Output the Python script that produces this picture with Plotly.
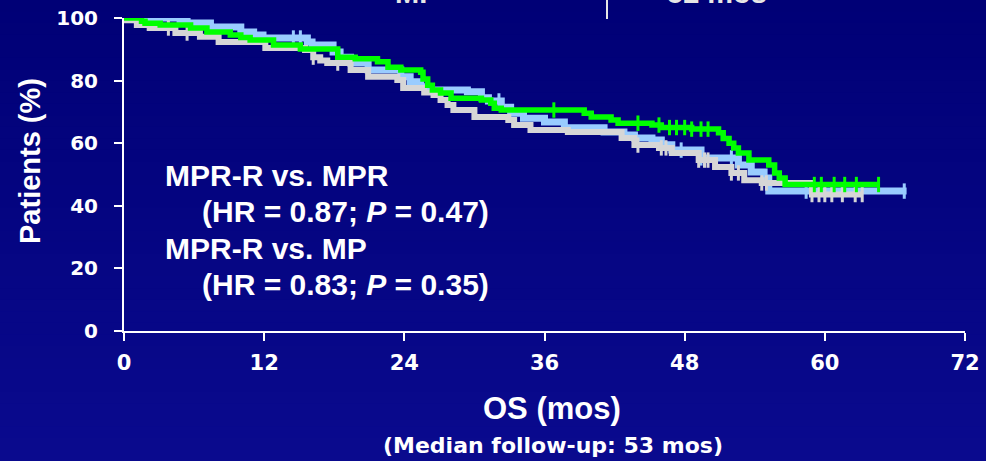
import plotly.graph_objects as go

# ---------------- data ----------------
# Kaplan-Meier step curves: time of step (months) and survival (%) after step
mprr_t = [0, 1.5, 1.8, 3.1, 5.7, 7.1, 9.1, 10.0, 10.8, 12.8, 15.1, 18.3, 19.8, 21.7, 22.6,
          23.7, 25.4, 25.6, 26.0, 26.4, 27.1, 28.0, 30.6, 31.4, 31.7, 32.3, 39.4, 40.0,
          41.7, 42.3, 45.2, 46.0, 48.6, 50.9, 51.3, 51.8, 52.2, 52.6, 53.5, 55.2, 55.7,
          56.1, 56.6, 64.7]
mprr_s = [100, 99, 98.3, 97.8, 96.8, 95.5, 94.6, 93.8, 93, 91.4, 90.1, 87.5, 87, 86, 84.3,
          83.4, 82.7, 80.5, 78.5, 77, 76, 74.4, 73.8, 72.8, 71.2, 70.6, 69.6, 68.4,
          67.4, 66.4, 65.8, 65.0, 64.5, 63.3, 61.5, 60, 58.5, 56.9, 54.6, 53, 50.5,
          48.9, 46.8, 46.8]

mpr_t = [0, 4.8, 5.4, 7.4, 10.0, 11.1, 11.9, 15.7, 16.1, 17.9, 18.5, 19.4, 20.9, 23.7, 24.5,
         25.4, 26.0, 29.4, 30.6, 31.2, 32.3, 33.1, 34.2, 36.0, 37.7, 41.1, 42.8, 43.7,
         45.2, 46.0, 46.9, 49.4, 52.6, 53.7, 54.8, 55.2, 67.0]
mpr_s = [100, 99.4, 98.4, 97.1, 95.5, 94.6, 93.6, 92.3, 91.4, 89.1, 87.5, 85.6, 83.4, 81.2, 79.6,
         78, 77, 76.4, 74.5, 73.5, 71.5, 69.6, 68, 66.8, 64.9, 63.6, 62.6, 61.7,
         61, 59.5, 57.8, 55.3, 53, 50.8, 48.9, 44.7, 44.7]

mp_t = [0, 1.1, 2.2, 4.4, 6.5, 8.1, 12.1, 15.5, 16.2, 16.8, 17.4, 19.4, 20.9, 23.4, 23.9,
        25.7, 26.5, 27.1, 27.7, 28.2, 30.0, 32.9, 33.4, 34.8, 38.0, 42.6, 43.7, 45.8,
        46.9, 49.2, 50.6, 52.0, 53.1, 54.6, 58.9, 63.2]
mp_s = [99.3, 97.8, 96.8, 95.2, 94, 92.3, 90.4, 89.8, 87.5, 86.4, 85.6, 83.4, 81.2, 80.2, 77.6,
        76.2, 75.4, 73.8, 72.2, 70.6, 68.4, 67.4, 65.8, 64.2, 63.6, 61.7, 59.4, 58.5,
        56.9, 54.6, 52.4, 50.5, 48.2, 47.3, 43.6, 43.6]

# censoring times (months)
mprr_cens = [36.8, 44.0, 45.8, 46.7, 47.3, 48.0, 48.6, 49.4, 50.0, 59.1, 59.7, 60.8, 61.7, 62.7, 64.6]
mpr_cens = [14.5, 15.1, 32.1, 47.7, 49.4, 52.0, 58.4, 66.8]
mp_cens = [3.8, 5.4, 16.2, 18.3, 44.0, 46.0, 46.4, 49.2, 49.7, 50.0, 52.0, 52.6, 54.6, 55.0,
           58.9, 59.5, 60.0, 60.6, 61.5, 62.6, 63.2]

x_ticks = [0, 12, 24, 36, 48, 60, 72]
y_ticks = [0, 20, 40, 60, 80, 100]

hr_lines = ["MPR-R vs. MPR", "(HR = 0.87; <i>P</i> = 0.47)",
            "MPR-R vs. MP", "(HR = 0.83; <i>P</i> = 0.35)"]


def step_value(ts, ss, t):
    v = ss[0]
    for ti, si in zip(ts, ss):
        if ti <= t:
            v = si
        else:
            break
    return v


FONT = "Arial, Liberation Sans, sans-serif"
WIDEFONT = "DejaVu Sans, Arial, sans-serif"
GREEN = "#00ff00"
BLUE = "#99ccff"
GREY = "#d6d6d6"

fig = go.Figure()

series = [
    ("MPR", mpr_t, mpr_s, mpr_cens, BLUE, 7),
    ("MP", mp_t, mp_s, mp_cens, GREY, 6),
    ("MPR-R", mprr_t, mprr_s, mprr_cens, GREEN, 5.5),
]
for name, ts, ss, cens, col, w in series:
    fig.add_trace(go.Scatter(x=ts, y=ss, mode="lines", line=dict(color=col, width=w, shape="hv"),
                             name=name, showlegend=False, hoverinfo="skip"))
    fig.add_trace(go.Scatter(x=cens, y=[step_value(ts, ss, c) for c in cens], mode="markers",
                             marker=dict(symbol="line-ns", size=11, line=dict(color=col, width=3)),
                             showlegend=False, hoverinfo="skip", cliponaxis=False))

# background gradient bands
shapes = []
top = (0, 0, 118)
bot = (10, 10, 142)
n = 40
L, R, T, B = 124, 21, 18, 130
H = 461 - T - B
W = 986 - L - R
for i in range(n):
    f = i / (n - 1)
    c = tuple(round(top[k] + (bot[k] - top[k]) * f) for k in range(3))
    py0 = 461 * i / n
    py1 = 461 * (i + 1) / n + 1
    shapes.append(dict(type="rect", xref="paper", yref="paper", layer="below",
                       x0=-L / W - 0.01, x1=1 + R / W + 0.01,
                       y0=(461 - B - py1) / H, y1=(461 - B - py0) / H,
                       fillcolor="rgb(%d,%d,%d)" % c, line=dict(width=0)))
# separator line of the cut-off table at top
shapes.append(dict(type="line", xref="paper", yref="paper",
                   x0=(607 - L) / W, x1=(607 - L) / W,
                   y0=(461 - B - 19) / H, y1=(461 - B + 2) / H,
                   line=dict(color="#e6e6e6", width=2)))

annotations = []
# HR text block
hr_pos = [(3.35, 49.6), (6.5, 38.1), (3.35, 26.3), (6.5, 14.8)]
for txt, (ax, ay) in zip(hr_lines, hr_pos):
    annotations.append(dict(x=ax, y=ay, xref="x", yref="y", text="<b>%s</b>" % txt,
                            showarrow=False, xanchor="left", yanchor="middle",
                            font=dict(family=FONT, size=30, color="white")))
# axis titles
annotations.append(dict(x=(552 - L) / W, y=(461 - B - 409) / H, xref="paper", yref="paper",
                        text="<b>OS (mos)</b>", showarrow=False, xanchor="center", yanchor="middle",
                        font=dict(family=FONT, size=31, color="white")))
annotations.append(dict(x=(553 - L) / W, y=(461 - B - 445) / H, xref="paper", yref="paper",
                        text="<b>(Median follow-up: 53 mos)</b>", showarrow=False,
                        xanchor="center", yanchor="middle",
                        font=dict(family=WIDEFONT, size=22, color="white")))
annotations.append(dict(x=(30 - L) / W, y=(461 - B - 161) / H, xref="paper", yref="paper",
                        text="<b>Patients (%)</b>", showarrow=False, textangle=-90,
                        xanchor="center", yanchor="middle",
                        font=dict(family=FONT, size=29, color="white")))
# cut-off table text at top
for txt, px in [("MP", 417), ("52 mos", 717)]:
    annotations.append(dict(x=(px - L) / W, y=(461 - B + 7) / H, xref="paper", yref="paper",
                            text="<b>%s</b>" % txt, showarrow=False, xanchor="center",
                            yanchor="middle", font=dict(family=FONT, size=29, color="#e6e6e6")))

axis_common = dict(showline=True, linecolor="white", linewidth=2, ticks="outside",
                   tickcolor="white", tickwidth=2, ticklen=8, showgrid=False, zeroline=False,
                   fixedrange=True, automargin=False)
fig.update_layout(
    width=986, height=461,
    margin=dict(l=L, r=R, t=T, b=B),
    paper_bgcolor="rgb(0,0,118)",
    plot_bgcolor="rgba(0,0,0,0)",
    shapes=shapes,
    annotations=annotations,
    xaxis=dict(range=[0, 72], tickvals=x_ticks, ticktext=[str(v) for v in x_ticks],
               tickfont=dict(family=WIDEFONT, size=21, color="white", weight="bold"),
               ticklabelstandoff=4, **axis_common),
    yaxis=dict(range=[0, 100], tickvals=y_ticks, ticktext=[str(v) for v in y_ticks],
               tickfont=dict(family=WIDEFONT, size=20, color="white", weight="bold"),
               ticklabelstandoff=12, **axis_common),
)

fig.write_html("out.html", config={"displayModeBar": False},
               post_script="document.body.style.margin='0';document.body.style.overflow='hidden';")
